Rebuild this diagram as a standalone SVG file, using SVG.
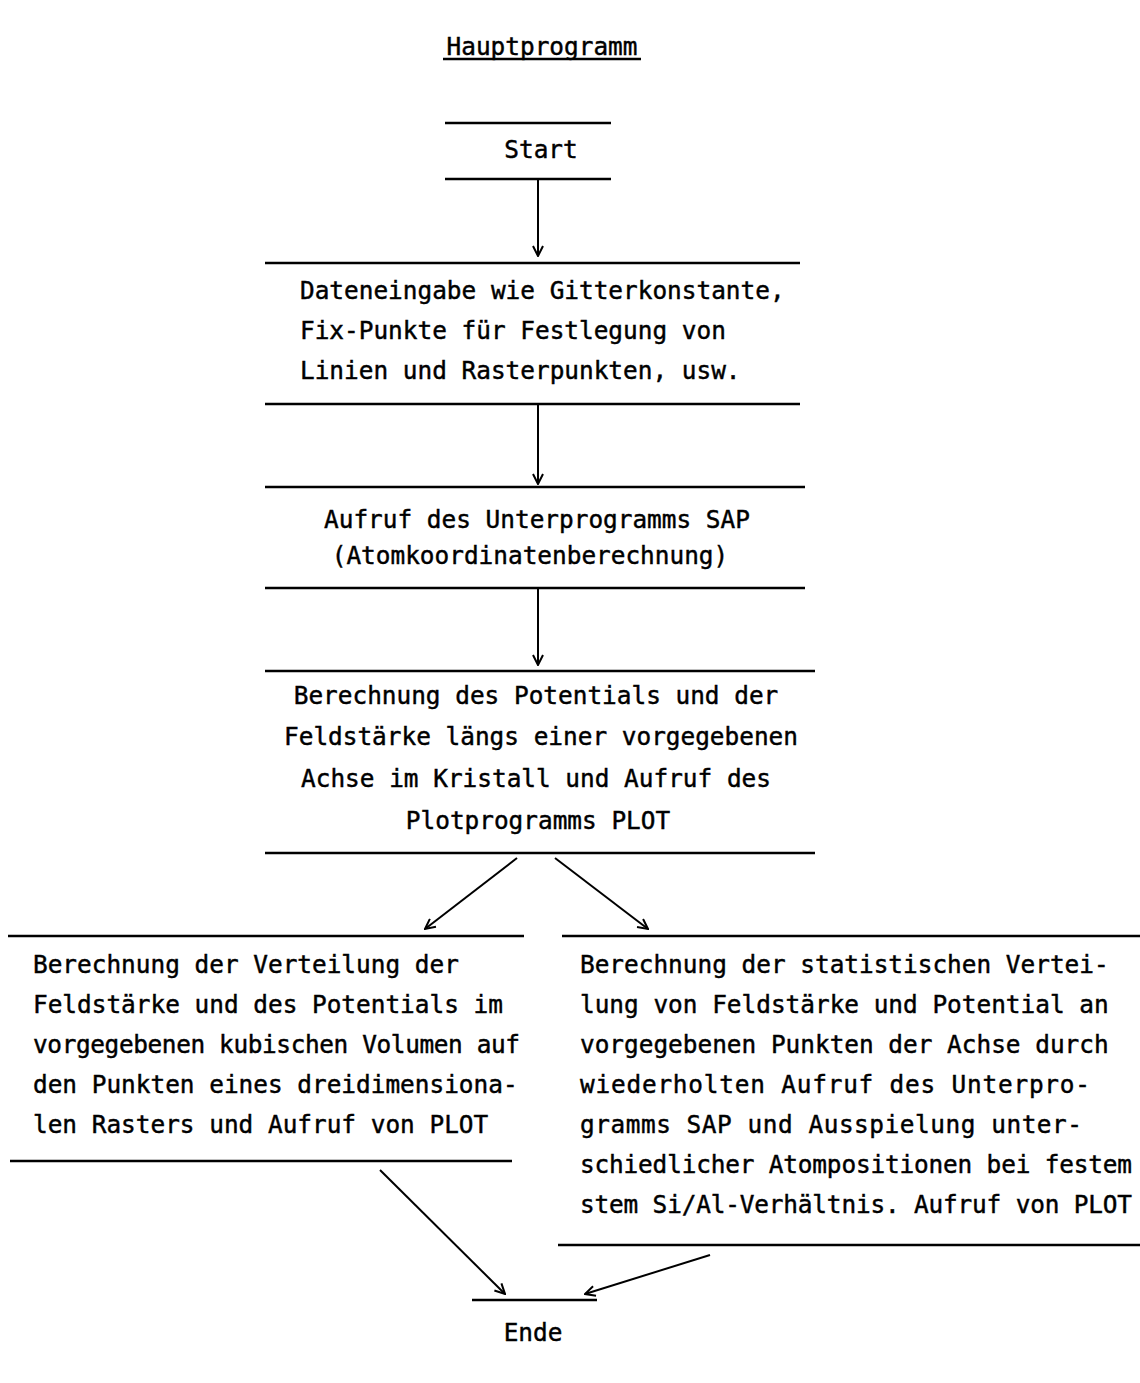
<svg xmlns="http://www.w3.org/2000/svg" width="1140" height="1383" viewBox="0 0 1140 1383">
<style>
  text { font-family: "DejaVu Sans Mono", "Liberation Mono", monospace; font-size: 24.4px; fill: #000; stroke: #000; stroke-width: 0.45px; }
  .c { text-anchor: middle; }
  .rule { stroke: #000; stroke-width: 2.6; fill: none; }
  .conn { stroke: #000; stroke-width: 2; fill: none; marker-end: url(#ah); }
</style>
<defs>
  <marker id="ah" viewBox="0 0 12 12" refX="11" refY="6" markerWidth="12" markerHeight="12" markerUnits="userSpaceOnUse" orient="auto">
    <path d="M1,1 L11,6 L1,11" fill="none" stroke="#000" stroke-width="2"/>
  </marker>
</defs>
<rect width="1140" height="1383" fill="#fff"/>

<g id="title">
  <text x="542" y="55" class="c">Hauptprogramm</text>
  <line class="rule" x1="443" y1="59" x2="641" y2="59"/>
</g>

<g id="start">
  <line class="rule" x1="445" y1="123" x2="611" y2="123"/>
  <text x="541" y="158" class="c">Start</text>
  <line class="rule" x1="445" y1="179" x2="611" y2="179"/>
</g>

<g id="dateneingabe">
  <line class="rule" x1="265" y1="263" x2="800" y2="263"/>
  <text x="300" y="299">Dateneingabe wie Gitterkonstante,</text>
  <text x="300" y="339">Fix-Punkte für Festlegung von</text>
  <text x="300" y="379">Linien und Rasterpunkten, usw.</text>
  <line class="rule" x1="265" y1="404" x2="800" y2="404"/>
</g>

<g id="sap">
  <line class="rule" x1="265" y1="487" x2="805" y2="487"/>
  <text x="537" y="528" class="c">Aufruf des Unterprogramms SAP</text>
  <text x="530" y="564" class="c">(Atomkoordinatenberechnung)</text>
  <line class="rule" x1="265" y1="588" x2="805" y2="588"/>
</g>

<g id="potential">
  <line class="rule" x1="265" y1="671" x2="815" y2="671"/>
  <text x="536" y="704" class="c">Berechnung des Potentials und der</text>
  <text x="541" y="745" class="c">Feldstärke längs einer vorgegebenen</text>
  <text x="536" y="787" class="c">Achse im Kristall und Aufruf des</text>
  <text x="538" y="829" class="c">Plotprogramms PLOT</text>
  <line class="rule" x1="265" y1="853" x2="815" y2="853"/>
</g>

<g id="verteilung">
  <line class="rule" x1="8" y1="936" x2="524" y2="936"/>
  <text x="33" y="973">Berechnung der Verteilung der</text>
  <text x="33" y="1013">Feldstärke und des Potentials im</text>
  <text x="33" y="1053" textLength="487" lengthAdjust="spacing">vorgegebenen kubischen Volumen auf</text>
  <text x="33" y="1093">den Punkten eines dreidimensiona-</text>
  <text x="33" y="1133">len Rasters und Aufruf von PLOT</text>
  <line class="rule" x1="10" y1="1161" x2="512" y2="1161"/>
</g>

<g id="statistik">
  <line class="rule" x1="562" y1="936" x2="1140" y2="936"/>
  <text x="580" y="973">Berechnung der statistischen Vertei-</text>
  <text x="580" y="1013">lung von Feldstärke und Potential an</text>
  <text x="580" y="1053">vorgegebenen Punkten der Achse durch</text>
  <text x="580" y="1093" textLength="510" lengthAdjust="spacing">wiederholten Aufruf des Unterpro-</text>
  <text x="580" y="1133" textLength="502" lengthAdjust="spacing">gramms SAP und Ausspielung unter-</text>
  <text x="580" y="1173" textLength="552" lengthAdjust="spacing">schiedlicher Atompositionen bei festem</text>
  <text x="580" y="1213" textLength="552" lengthAdjust="spacing">stem Si/Al-Verhältnis. Aufruf von PLOT</text>
  <line class="rule" x1="558" y1="1245" x2="1140" y2="1245"/>
</g>

<g id="ende">
  <line class="rule" x1="472" y1="1300" x2="597" y2="1300"/>
  <text x="533" y="1341" class="c">Ende</text>
</g>

<g id="connectors">
  <line class="conn" x1="538" y1="180" x2="538" y2="256"/>
  <line class="conn" x1="538" y1="405" x2="538" y2="484"/>
  <line class="conn" x1="538" y1="589" x2="538" y2="665"/>
  <line class="conn" x1="517" y1="858" x2="425" y2="929"/>
  <line class="conn" x1="555" y1="858" x2="648" y2="929"/>
  <line class="conn" x1="380" y1="1170" x2="505" y2="1294"/>
  <line class="conn" x1="710" y1="1255" x2="585" y2="1294"/>
</g>
</svg>
